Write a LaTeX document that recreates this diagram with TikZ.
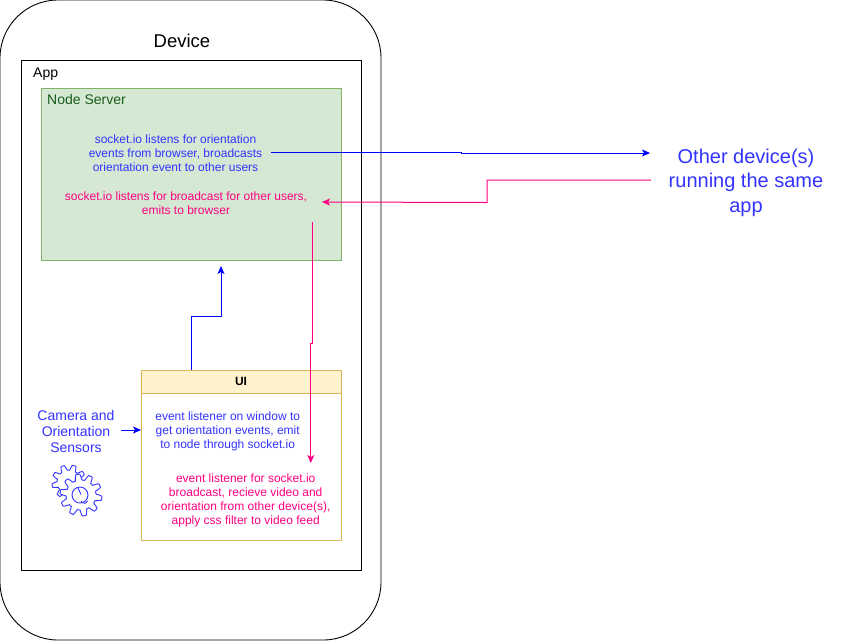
\documentclass[tikz,border=0pt]{standalone}
\usepackage{fontspec}
\setmainfont{Liberation Sans}
\usetikzlibrary{arrows.meta}
\definecolor{bluetxt}{HTML}{3333FF}
\definecolor{linkblue}{HTML}{0000FF}
\definecolor{pinkc}{HTML}{FF0080}
\definecolor{greenfill}{HTML}{D5E8D4}
\definecolor{greenline}{HTML}{82B366}
\definecolor{greentxt}{HTML}{1A5C1A}
\definecolor{yellowfill}{HTML}{FFF2CC}
\definecolor{yellowline}{HTML}{D6B656}
\tikzset{
  box/.style={draw,anchor=north west,inner sep=0pt,outer sep=0pt,line width=0.9pt},
  lbl/.style={inner sep=0pt,outer sep=0pt,align=center,font=\fontsize{12}{14}\selectfont},
  bluelbl/.style={lbl,text=bluetxt},
  pinklbl/.style={lbl,text=pinkc},
  bluearrow/.style={draw=linkblue,line width=0.9pt,-{Stealth[length=8pt,width=7pt,inset=2pt]}},
  pinkarrow/.style={draw=pinkc,line width=1pt,-{Stealth[length=8pt,width=7pt,inset=2pt]}},
  gearline/.style={draw=bluetxt,line width=0.9pt,line join=round}
}
\begin{document}
\begin{tikzpicture}[x=1pt,y=-1pt]
\useasboundingbox (0,0) rectangle (842,641);
\fill[white] (0,0) rectangle (842,641);
% frames
\node[box,black,minimum width=381pt,minimum height=640pt,rounded corners=58pt] (device) at (0,0) {};
\node[inner sep=0pt,font=\fontsize{18.5}{21}\selectfont] (devicetitle) at (182,40.5) {Device};
\node[box,black,minimum width=340pt,minimum height=510pt] (app) at (21,60) {};
\node[inner sep=0pt,anchor=west,font=\fontsize{14}{16}\selectfont] (applabel) at (33,74) {App};
% Node server
\node[box,draw=greenline,fill=greenfill,minimum width=300pt,minimum height=172pt] (server) at (41,88) {};
\node[inner sep=0pt,anchor=west,text=greentxt,font=\fontsize{14}{16}\selectfont] (serverlabel) at (47,99) {Node Server};
\node[bluelbl] (servblue) at (175.5,153.5) {socket.io listens for orientation\\events from browser, broadcasts\\orientation event to other users};
\node[pinklbl] (servpink) at (186,202.8) {socket.io listens for broadcast for other users,\\emits to browser};
% UI
\node[box,draw=yellowline,minimum width=200pt,minimum height=170pt] (ui) at (141,370) {};
\node[box,draw=yellowline,fill=yellowfill,minimum width=200pt,minimum height=23.5pt,font=\fontsize{12}{14}\selectfont\bfseries] (uihead) at (141,370) {UI};
\node[bluelbl] (uiblue) at (227.7,431.8) {event listener on window to\\get orientation events, emit\\to node through socket.io};
\node[pinklbl] (uipink) at (245.7,500.8) {event listener for socket.io\\broadcast, recieve video and\\orientation from other device(s),\\apply css filter to video feed};
% sensors
\node[lbl,text=bluetxt,font=\fontsize{14}{16.2}\selectfont] (camera) at (76,431.5) {Camera and\\Orientation\\Sensors};
\draw[gearline] plot[domain=0:359,samples=360] ({69+(14.5+2.6*max(-1,min(1,1.7*sin(9*\x+20))))*cos(\x)},{482+(14.5+2.6*max(-1,min(1,1.7*sin(9*\x+20))))*sin(\x)}) -- cycle;
\draw[gearline,fill=white] plot[domain=0:359,samples=360] ({81+(18+3*max(-1,min(1,1.7*sin(10*\x))))*cos(\x)},{495+(18+3*max(-1,min(1,1.7*sin(10*\x))))*sin(\x)}) -- cycle;
\draw[gearline] (80,495) circle (8pt);
\draw[gearline] (78,488) -- (81,494.5) (81,501) arc (200:340:3.5pt);
% other device
\node[lbl,text=bluetxt,font=\fontsize{20}{24.5}\selectfont] (other) at (746,182.5) {Other device(s)\\running the same\\app};
% connector ends
\coordinate (bs) at (271,152);
\coordinate (be) at (650,153);
\coordinate (ps) at (651,180);
\coordinate (pe) at (322,202);
\coordinate (ds) at (312.6,222);
\coordinate (de) at (310.8,463);
\coordinate (us) at (191,370);
\coordinate (ue) at (221,266);
\coordinate (cs) at (121,430);
\coordinate (ce) at (141,430);
\path[bluearrow] (bs) -- (461,152) -- (461,153) -- (be);
\path[pinkarrow] (ps) -- (487,180) -- (487,202.5) -- (pe);
\path[pinkarrow] (ds) -- (312.6,343) -- (310.8,343) -- (de);
\path[bluearrow] (us) -- (191,316) -- (221,316) -- (ue);
\path[bluearrow] (cs) -- (ce);
\end{tikzpicture}
\end{document}
